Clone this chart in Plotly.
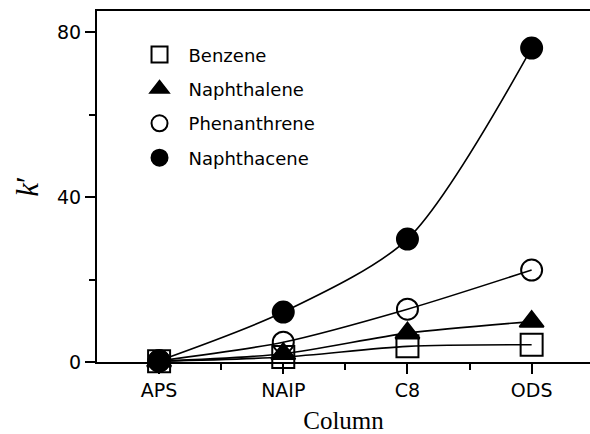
import plotly.graph_objects as go

columns = ["APS", "NAIP", "C8", "ODS"]
benzene = [0.2, 1.2, 3.8, 4.2]
naphthalene = [0.2, 2.0, 7.0, 9.8]
phenanthrene = [0.3, 4.8, 12.8, 22.3]
naphthacene = [0.3, 12.1, 29.8, 76.1]

xpos = list(range(len(columns)))

series = [
    ("Benzene", benzene, "square-open", 22),
    ("Naphthalene", naphthalene, "triangle-up", 21),
    ("Phenanthrene", phenanthrene, "circle-open", 21),
    ("Naphthacene", naphthacene, "circle", 21),
]

TICKFONT = dict(family="DejaVu Sans, Liberation Sans, Arial", size=19, color="black")

fig = go.Figure()
for name, vals, sym, sz in series:
    fig.add_trace(go.Scatter(
        x=xpos, y=vals, name=name, mode="lines",
        line=dict(color="black", width=1.6, shape="spline", smoothing=0.8),
        cliponaxis=False, showlegend=False, hoverinfo="skip",
    ))
for name, vals, sym, sz in series:
    fig.add_trace(go.Scatter(
        x=xpos, y=vals, name=name, mode="markers",
        marker=dict(symbol=sym, size=sz, color="black",
                    line=dict(color="black", width=2)),
        cliponaxis=False, legendgroup=name,
    ))

fig.update_layout(
    width=590, height=434,
    margin=dict(l=97, r=0, t=11, b=72),
    paper_bgcolor="white", plot_bgcolor="white",
    showlegend=True,
    legend=dict(x=0.068, y=0.928, xanchor="left", yanchor="top",
                font=dict(family="DejaVu Sans, Liberation Sans, Arial", size=18, color="black"),
                tracegroupgap=8, itemwidth=48,
                bgcolor="rgba(0,0,0,0)"),
    xaxis=dict(
        range=[-0.5, 3.47], tickvals=xpos, ticktext=columns,
        showline=True, linecolor="black", linewidth=2, mirror=True,
        ticks="outside", ticklen=10, tickwidth=2, tickcolor="black",
        minor=dict(tickvals=[0.5, 1.5, 2.5], ticks="outside", ticklen=6,
                   tickwidth=2, tickcolor="black"),
        showgrid=False, zeroline=False, automargin=False,
        tickfont=TICKFONT,
        title=dict(text="Column", standoff=12,
                   font=dict(family="Liberation Serif, Times New Roman", size=25, color="black")),
    ),
    yaxis=dict(
        range=[0, 85.1], tickvals=[0, 40, 80],
        showline=True, linecolor="black", linewidth=2,
        ticks="outside", ticklen=10, tickwidth=2, tickcolor="black",
        minor=dict(tickvals=[20, 60], ticks="outside", ticklen=6,
                   tickwidth=2, tickcolor="black"),
        showgrid=False, zeroline=False, automargin=False,
        tickfont=TICKFONT,
        title=dict(text="<i>k</i>\u2032", standoff=9,
                   font=dict(family="Liberation Serif, Times New Roman", size=31, color="black")),
    ),
)

fig.write_html("out.html", config={"displayModeBar": False},
               post_script="document.body.style.margin='0';")
